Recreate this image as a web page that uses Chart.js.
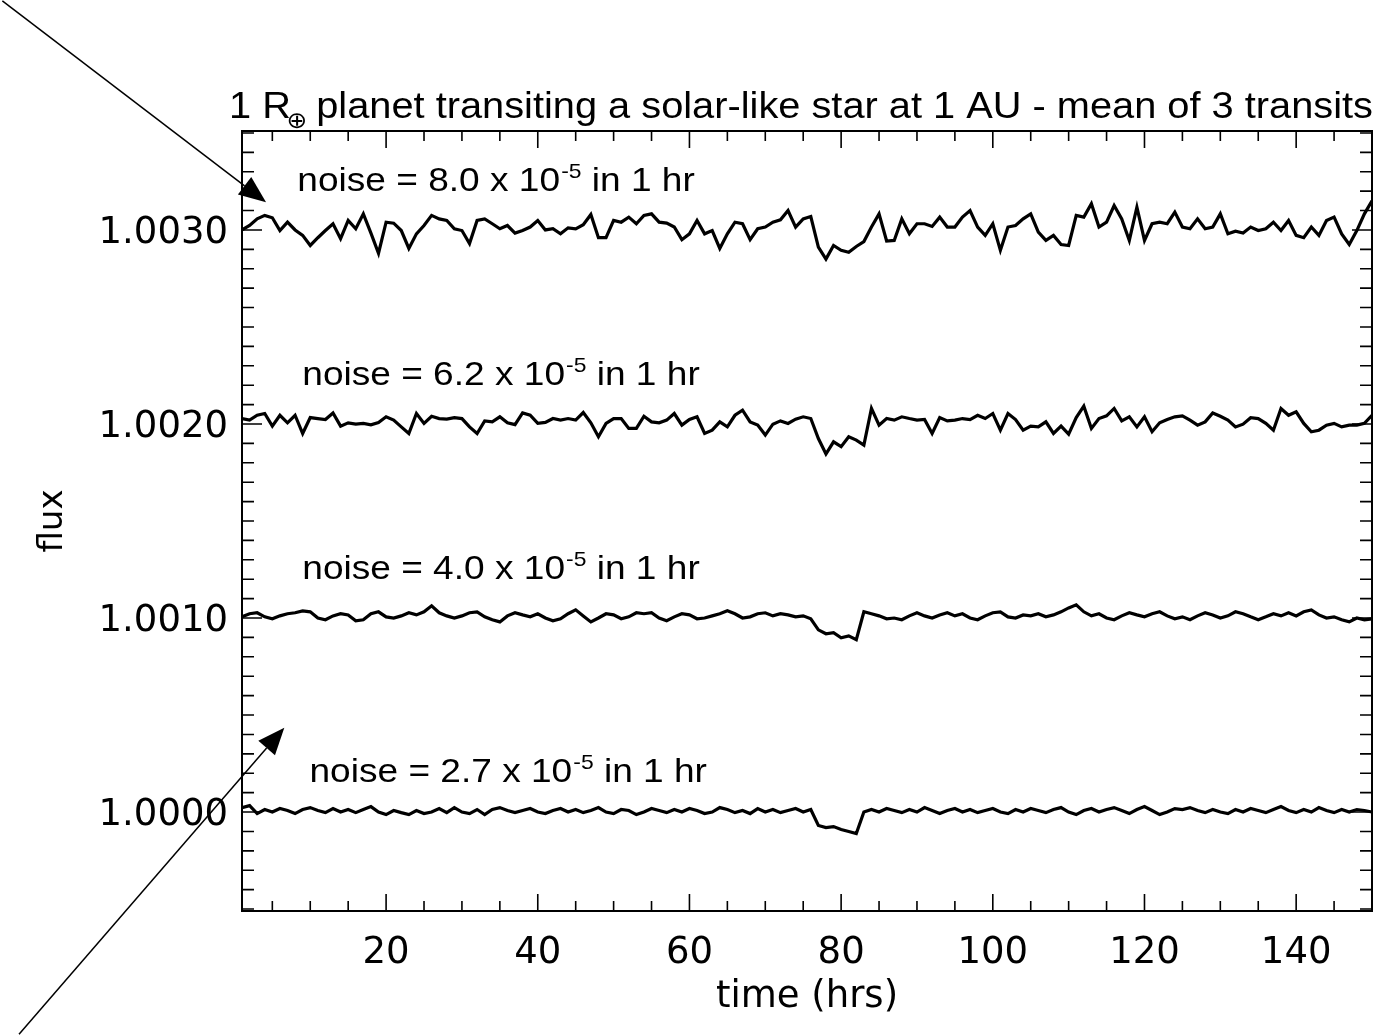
<!doctype html>
<html>
<head>
<meta charset="UTF-8">
<title>Transit light curves</title>
<script src="https://cdn.jsdelivr.net/npm/chart.js@4.4.0/dist/chart.umd.min.js"></script>
<style>
  body { margin: 0; background: #fff; }
</style>
</head>
<body>
<canvas id="chart" width="1385" height="1035"></canvas>
<script>
// sample times (hrs)
const hours = [1,2,3,4,5,6,7,8,9,10,11,12,13,14,15,16,17,18,19,20,
  21,22,23,24,25,26,27,28,29,30,31,32,33,34,35,36,37,38,39,40,
  41,42,43,44,45,46,47,48,49,50,51,52,53,54,55,56,57,58,59,60,
  61,62,63,64,65,66,67,68,69,70,71,72,73,74,75,76,77,78,79,80,
  81,82,83,84,85,86,87,88,89,90,91,92,93,94,95,96,97,98,99,100,
  101,102,103,104,105,106,107,108,109,110,111,112,113,114,115,116,117,118,119,120,
  121,122,123,124,125,126,127,128,129,130,131,132,133,134,135,136,137,138,139,140,
  141,142,143,144,145,146,147,148,149,150]

// flux deviations in ppm, one list per noise level
const dev80 = [0,23,57,75,63,-3,40,0,-28,-80,
  -40,-3,32,-45,49,6,83,-16,-120,40,
  35,-3,-95,-20,23,75,57,49,6,-3,
  -70,49,57,32,6,23,-16,-3,15,49,
  0,6,-20,11,6,27,80,-40,-40,49,
  40,66,32,75,83,40,35,15,-50,-20,
  49,-20,-3,-95,-20,40,32,-50,6,15,
  40,52,100,15,57,69,-88,-150,-80,-105,
  -115,-85,-60,15,83,-57,-54,57,-20,32,
  32,18,66,15,15,66,100,15,-28,32,
  -105,15,23,57,83,-11,-54,-28,-75,-80,
  75,66,135,15,40,126,57,-54,117,-54,
  32,40,32,92,15,6,57,6,15,83,
  -20,-6,-16,15,-3,6,40,-3,49,-28,
  -40,15,-28,49,66,-20,-75,-3,83,150]

const dev62 = [28,20,45,54,-11,45,6,45,-49,33,
  28,23,57,-11,6,-1,3,-4,8,37,
  20,-15,-49,54,3,40,28,25,33,28,
  -15,-49,16,11,37,6,-3,57,45,3,
  8,28,20,28,20,59,6,-66,3,28,
  28,-23,-23,40,11,6,20,54,-6,23,
  37,-49,-32,11,-15,45,71,11,-6,-57,
  -1,16,3,25,37,28,-75,-155,-92,-117,
  -66,-83,-109,80,-6,28,20,37,28,20,
  23,-49,33,16,20,28,23,45,28,54,
  -32,54,23,-32,-11,-15,11,-49,-11,-52,
  33,92,-23,28,42,80,16,37,-15,37,
  -40,6,23,37,42,20,-6,11,57,40,
  20,-15,-1,32,28,3,-32,80,45,63,
  3,-40,-32,-6,3,-15,-6,-6,3,45]

const dev40 = [6,22,27,6,-4,11,22,27,37,32,
  0,-9,11,22,16,-14,-9,22,32,6,
  0,11,27,16,32,63,27,11,0,11,
  27,32,6,-9,-20,11,27,16,6,22,
  0,-14,-4,22,42,11,-20,0,22,16,
  -4,6,27,22,27,0,-14,6,22,16,
  -4,0,11,22,37,22,0,6,22,27,
  11,22,16,6,11,-4,-61,-81,-76,-102,
  -92,-112,32,22,11,-4,0,-9,11,27,
  11,0,16,27,11,22,0,-9,11,27,
  32,6,0,16,11,22,6,16,32,52,
  68,32,11,22,0,-9,11,27,16,6,
  22,32,11,-4,6,-9,11,27,16,0,
  11,32,22,6,-9,6,22,11,27,11,
  32,42,16,0,6,-9,-20,0,-9,-4]

const dev27 = [23,33,-8,13,0,18,8,-8,13,23,
  8,-3,18,0,13,-3,13,28,0,-13,
  8,-3,-13,8,-8,0,18,-3,23,0,
  -8,13,-13,13,23,8,-3,8,18,0,
  -8,8,18,0,13,-3,8,23,0,-8,
  13,8,-13,0,18,8,-3,13,0,18,
  8,-8,0,23,13,-3,8,-8,18,0,
  13,-3,8,18,0,13,-69,-80,-75,-90,
  -100,-111,0,13,0,18,8,-3,13,0,
  23,8,-8,8,18,0,13,-3,8,18,
  0,-8,13,0,18,8,-3,13,23,0,
  -13,8,18,0,13,23,8,-8,13,28,
  8,-13,0,18,13,23,8,-3,13,0,
  -8,13,0,18,8,-3,13,28,8,-3,
  13,0,23,8,-3,13,0,13,8,0]

const offsets = [1.003, 1.002, 1.001, 1.000]
const noiseLevels = ['8.0', '6.2', '4.0', '2.7']
const xTicks = [20, 40, 60, 80, 100, 120, 140]
const yTicks = [1.000, 1.001, 1.002, 1.003]

const series = [dev80, dev62, dev40, dev27]

// where the labels and arrows sit, in data units
const labelSpots = [[8.3, 1.0032], [8.95, 1.0022], [8.95, 1.0012], [9.9, 1.000157]]
const arrows = [
  {from: [-30.6, 1.004181], to: [4.17, 1.003143]},
  {from: [-28.4, 0.998855], to: [6.58, 1.000435]}
]

const axisFont = '"DejaVu Sans", sans-serif'
const textFont = '"Liberation Sans", Arial, sans-serif'

// draw a row of text pieces, stretched horizontally by sx
function drawRuns (ctx, runs, x0, y0, sx) {
  ctx.save()
  ctx.translate(x0, y0)
  ctx.scale(sx, 1)
  let cx = 0
  for (const r of runs) {
    ctx.font = r.font
    ctx.fillText(r.text, cx + (r.dx || 0), r.dy || 0)
    cx += ctx.measureText(r.text).width + (r.dx || 0) + (r.after || 0)
  }
  ctx.restore()
}

const decorations = {
  id: 'decorations',
  afterDraw (chart) {
    const {ctx, chartArea: a, scales: {x, y}} = chart
    ctx.save()
    ctx.strokeStyle = '#000'
    ctx.fillStyle = '#000'

    // frame
    ctx.lineWidth = 2
    ctx.strokeRect(a.left, a.top, a.right - a.left, a.bottom - a.top)

    // inward ticks, all four sides
    ctx.lineWidth = 1.6
    ctx.beginPath()
    for (let k = 1; k < 30; k++) {
      const v = k * 5
      const px = x.getPixelForValue(v)
      const len = v % 20 === 0 ? 17 : 10
      ctx.moveTo(px, a.bottom); ctx.lineTo(px, a.bottom - len)
      ctx.moveTo(px, a.top); ctx.lineTo(px, a.top + len)
    }
    for (let k = 0; k <= 40; k++) {
      const v = 0.9995 + k * 0.0001
      const py = y.getPixelForValue(v)
      if (py < a.top || py > a.bottom) continue
      const len = k % 10 === 5 ? 20 : 12
      ctx.moveTo(a.left, py); ctx.lineTo(a.left + len, py)
      ctx.moveTo(a.right, py); ctx.lineTo(a.right - len, py)
    }
    ctx.stroke()

    // title with subscript earth symbol
    ctx.textBaseline = 'alphabetic'
    ctx.textAlign = 'left'
    drawRuns(ctx, [
      {text: '1 R', font: '37px ' + textFont},
      {text: '\u2295', font: '23px ' + axisFont, dx: -4, dy: 10, after: -2},
      {text: ' planet transiting a solar-like star at 1 AU - mean of 3 transits', font: '37px ' + textFont}
    ], 229, 118, 1.075)

    // noise labels
    labelSpots.forEach(([t, f], i) => {
      drawRuns(ctx, [
        {text: 'noise = ' + noiseLevels[i] + ' x 10', font: '34px ' + textFont, after: 1},
        {text: '-5', font: '21px ' + textFont, dy: -13},
        {text: ' in 1 hr', font: '34px ' + textFont}
      ], x.getPixelForValue(t), y.getPixelForValue(f), 1.09)
    })

    // arrows pointing at the light curves
    ctx.lineWidth = 1.5
    arrows.forEach(({from, to}) => {
      const x0 = x.getPixelForValue(from[0]), y0 = y.getPixelForValue(from[1])
      const x1 = x.getPixelForValue(to[0]), y1 = y.getPixelForValue(to[1])
      const ang = Math.atan2(y1 - y0, x1 - x0)
      const hl = 27, hw = 11
      const bx = x1 - hl * Math.cos(ang), by = y1 - hl * Math.sin(ang)
      ctx.beginPath()
      ctx.moveTo(x0, y0); ctx.lineTo(bx, by)
      ctx.stroke()
      ctx.beginPath()
      ctx.moveTo(x1, y1)
      ctx.lineTo(bx + hw * Math.sin(ang), by - hw * Math.cos(ang))
      ctx.lineTo(bx - hw * Math.sin(ang), by + hw * Math.cos(ang))
      ctx.closePath()
      ctx.fill()
    })
    ctx.restore()
  }
}

const datasets = series.map((dev, i) => ({
  label: 'noise ' + noiseLevels[i],
  data: hours.map((t, j) => ({x: t, y: offsets[i] + dev[j] * 1e-6})),
  borderColor: '#000',
  borderWidth: 3.2,
  pointRadius: 0,
  tension: 0,
  fill: false
}))

new Chart(document.getElementById('chart'), {
  type: 'line',
  data: {datasets},
  options: {
    responsive: false,
    animation: false,
    devicePixelRatio: 1,
    layout: {padding: {left: 0, top: 131, right: 13, bottom: 0}},
    plugins: {legend: {display: false}, tooltip: {enabled: false}},
    scales: {
      x: {
        type: 'linear',
        min: 1,
        max: 150,
        grid: {display: false, drawTicks: false},
        border: {display: false},
        afterBuildTicks: s => { s.ticks = xTicks.map(v => ({value: v})) },
        afterFit: s => { s.height = 124 },
        ticks: {
          font: {family: axisFont, size: 37},
          color: '#000',
          padding: 20,
          maxRotation: 0,
          autoSkip: false
        },
        title: {
          display: true,
          text: 'time (hrs)',
          font: {family: axisFont, size: 37},
          color: '#000',
          padding: {top: 0, bottom: 15}
        }
      },
      y: {
        type: 'linear',
        min: 0.99949,
        max: 1.00351,
        grid: {display: false, drawTicks: false},
        border: {display: false},
        afterBuildTicks: s => { s.ticks = yTicks.map(v => ({value: v})) },
        afterFit: s => { s.width = 242 },
        ticks: {
          font: {family: axisFont, size: 37},
          color: '#000',
          padding: 14,
          labelOffset: 3,
          autoSkip: false,
          callback: v => v.toFixed(4)
        },
        title: {
          display: true,
          text: 'flux',
          font: {family: axisFont, size: 34},
          color: '#000',
          padding: {top: 33, bottom: 0}
        }
      }
    }
  },
  plugins: [decorations]
})
</script>
</body>
</html>
